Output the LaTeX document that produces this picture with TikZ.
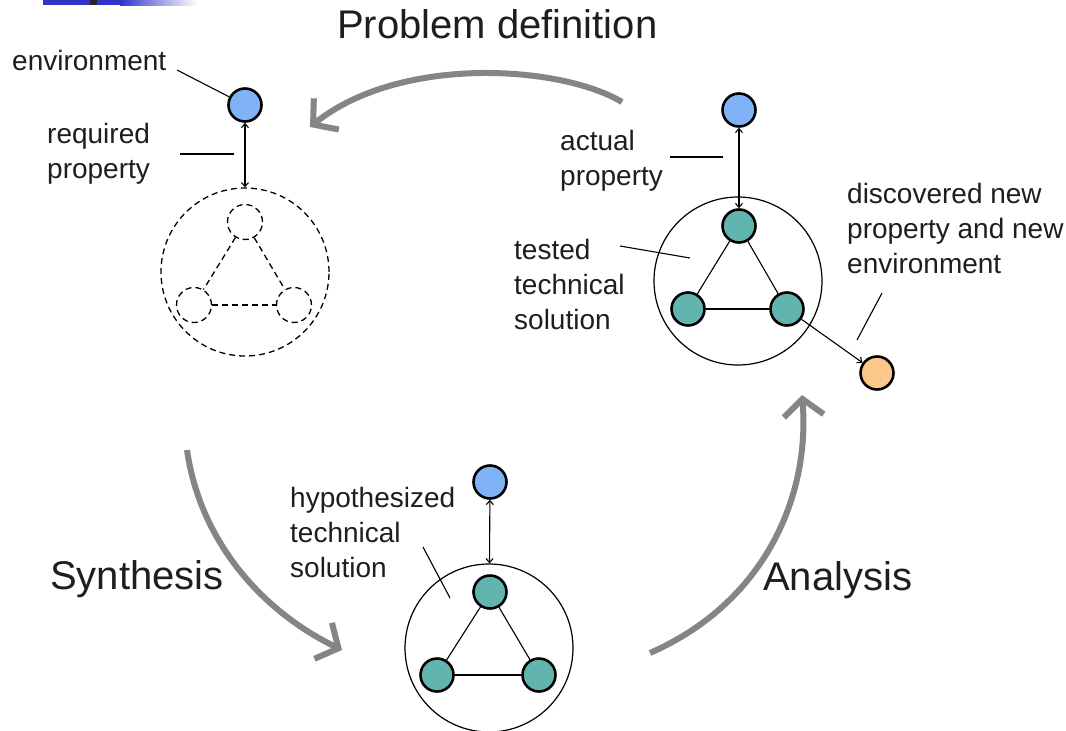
\documentclass[tikz,border=0pt]{standalone}
\usepackage{fontspec}
\setmainfont{Liberation Sans}
\usetikzlibrary{arrows.meta}
\definecolor{envblue}{HTML}{80B3F5}
\definecolor{tealfill}{HTML}{62B5AE}
\definecolor{orangefill}{HTML}{FBC88A}
\definecolor{arrowgray}{HTML}{858585}
\definecolor{txt}{HTML}{1E1E1E}
\definecolor{barblue}{HTML}{3333CC}
\begin{document}
\begin{tikzpicture}[x=1pt,y=-1pt,
  dot/.style={circle, draw=black, line width=2.6pt, minimum size=33pt, inner sep=0pt},
  env/.style={dot, fill=envblue},
  comp/.style={dot, fill=tealfill},
  newenv/.style={dot, fill=orangefill},
  sys/.style={circle, draw=black, line width=1.2pt, minimum size=168pt, inner sep=0pt},
  dsys/.style={sys, line width=1.3pt, dash pattern=on 6pt off 4pt},
  dcomp/.style={circle, draw=black, line width=1.3pt, dash pattern=on 6pt off 4pt, minimum size=35pt, inner sep=0pt},
  edge/.style={line width=1.1pt},
  dedge/.style={line width=1.3pt, dash pattern=on 6pt off 4pt},
  rel/.style={line width=1.1pt, {Straight Barb[length=4pt,width=7pt]}-{Straight Barb[length=4pt,width=7pt]}},
  relone/.style={line width=1.1pt, -{Straight Barb[length=4pt,width=7pt]}},
  pointer/.style={line width=1.1pt},
  lbl/.style={font=\fontsize{28}{35}\selectfont, text=txt, align=left, inner sep=0pt, anchor=north west},
  big/.style={font=\fontsize{40}{48}\selectfont, text=txt, inner sep=0pt, anchor=base west},
  phase/.style={draw=arrowgray, line width=6pt, -{Straight Barb[length=17pt,width=40pt]}},
]
\useasboundingbox (0,0) rectangle (1066,731);
\fill[white] (0,0) rectangle (1066,731);
% slide bar
\fill[barblue] (43,0) rectangle (121,5);
\shade[left color=barblue, right color=white] (120,0) rectangle (197,5);
\fill[black!85] (90,0) rectangle (97,5);

% ---- problem definition (top left)
\node[env] (e1) at (245,105) {};
\node[dsys] (s1) at (245,272) {};
\node[dcomp] (d1) at (245,222) {};
\node[dcomp] (d2) at (194,305) {};
\node[dcomp] (d3) at (294,305) {};
\draw[dedge] (d1) -- (d2);
\draw[dedge] (d1) -- (d3);
\draw[dedge] (d2) -- (d3);
\draw[rel] (e1) -- (s1);

% ---- analysis result (top right)
\node[env] (e2) at (739,110) {};
\node[sys] (s2) at (738,281) {};
\node[comp] (c21) at (739,226) {};
\node[comp] (c22) at (688,309) {};
\node[comp] (c23) at (787,309) {};
\node[newenv] (n2) at (877,373) {};
\draw[edge] (c21) -- (c22);
\draw[edge] (c21) -- (c23);
\draw[edge] (c22) -- (c23);
\draw[rel] (e2) -- (c21);
\draw[relone] (c23) -- (n2);

% ---- synthesis result (bottom)
\node[env] (e3) at (490,482) {};
\node[sys] (s3) at (489,648) {};
\node[comp] (c31) at (490,592) {};
\node[comp] (c32) at (437,675) {};
\node[comp] (c33) at (539,675) {};
\draw[edge] (c31) -- (c32);
\draw[edge] (c31) -- (c33);
\draw[edge] (c32) -- (c33);
\draw[rel] (e3) -- (s3);

% ---- labels
\node[lbl] (tenv) at (12,50) {environment};
\node[lbl] (treq) at (47,123) {required\\property};
\node[lbl] (tact) at (560,130) {actual\\property};
\node[lbl] (ttest) at (514,239) {tested\\technical\\solution};
\node[lbl] (tdisc) at (847,183) {discovered new\\property and new\\environment};
\node[lbl] (thyp) at (290,487) {hypothesized\\technical\\solution};
\node[big] (tprob) at (337,38) {Problem definition};
\node[big] (tsyn) at (50,589) {Synthesis};
\node[big] (tana) at (763,590) {Analysis};

% ---- pointer lines
\coordinate (penv) at (177,70);
\draw[pointer] (penv) -- (e1);
\coordinate (preqa) at (180,154); \coordinate (preqb) at (234,154);
\draw[pointer] (preqa) -- (preqb);
\coordinate (pacta) at (670,157); \coordinate (pactb) at (723,157);
\draw[pointer] (pacta) -- (pactb);
\coordinate (ptesta) at (620,246); \coordinate (ptestb) at (690,258);
\draw[pointer] (ptesta) -- (ptestb);
\coordinate (pdisca) at (882,293); \coordinate (pdiscb) at (857,340);
\draw[pointer] (pdisca) -- (pdiscb);
\coordinate (phypa) at (423,547); \coordinate (phypb) at (450,598);
\draw[pointer] (phypa) -- (phypb);

% ---- phase arrows
\coordinate (pa1) at (622,102); \coordinate (pa2) at (310,127);
\draw[phase] (pa1) .. controls (560,65) and (400,55) .. (pa2);
\coordinate (sa1) at (187,450); \coordinate (sa2) at (342,650);
\draw[phase] (sa1) .. controls (200,540) and (260,610) .. (sa2);
\coordinate (aa1) at (650,653); \coordinate (aa2) at (802,395);
\draw[phase] (aa1) .. controls (770,600) and (810,490) .. (aa2);
\end{tikzpicture}
\end{document}
